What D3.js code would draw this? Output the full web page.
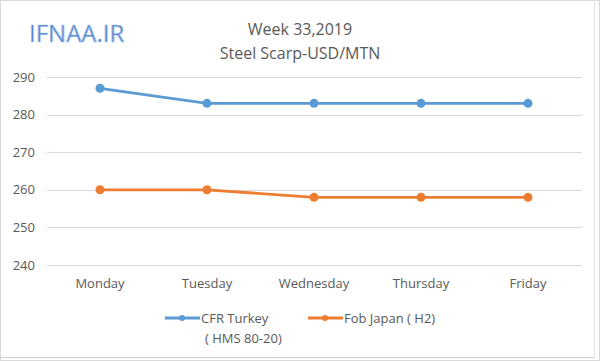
<!DOCTYPE html>
<html>
<head>
<meta charset="utf-8">
<script src="https://cdn.jsdelivr.net/npm/d3@7"></script>
<style>
  body { margin: 0; background: #fff; }
  text { font-family: "Open Sans", "Noto Sans", sans-serif; }
</style>
</head>
<body>
<script>
// chart values
const days = ["Monday", "Tuesday", "Wednesday", "Thursday", "Friday"];
const turkey = [287, 283, 283, 283, 283];
const japan = [260, 260, 258, 258, 258];
const yTicks = [240, 250, 260, 270, 280, 290];
const seriesNames = [["CFR Turkey", "( HMS 80-20)"], ["Fob Japan ( H2)"]];
const colors = ["#5B9BD5", "#ED7D31"];

const W = 600, H = 361;
var svg = d3.select("body").append("svg").attr("width", W).attr("height", H);

// outer frame
svg.append("rect").attr("x", 0.5).attr("y", 0.5).attr("width", W - 1).attr("height", H - 1)
   .attr("fill", "#fff").attr("stroke", "#d9d9d9");
svg.append("line").attr("x1", 594.5).attr("x2", 594.5).attr("y1", 0).attr("y2", 358)
   .attr("stroke", "#e3e3e3");
svg.append("line").attr("x1", 0).attr("x2", 595).attr("y1", 357.5).attr("y2", 357.5)
   .attr("stroke", "#d0d0d0");

var x = d3.scalePoint().domain(days).range([100, 528]);
var y = d3.scaleLinear().domain([240, 290]).range([265, 77]);

// gridlines
svg.append("g").selectAll("line").data(yTicks).join("line")
   .attr("x1", 47).attr("x2", 582)
   .attr("y1", d => Math.round(y(d)) + 0.5).attr("y2", d => Math.round(y(d)) + 0.5)
   .attr("stroke", "#d9d9d9").attr("stroke-width", 1);

// y labels
svg.append("g").selectAll("text").data(yTicks).join("text")
   .attr("x", 35).attr("y", d => y(d)).attr("dy", "0.35em")
   .attr("text-anchor", "end").attr("fill", "#595959").attr("font-size", 13)
   .text(d => d);

// x labels
svg.append("g").selectAll("text").data(days).join("text")
   .attr("x", d => x(d)).attr("y", 288)
   .attr("text-anchor", "middle").attr("fill", "#595959").attr("font-size", 13)
   .text(d => d);

// series
var line = d3.line().x((d, i) => x(days[i])).y(d => y(d));
[turkey, japan].forEach(function(vals, k) {
  svg.append("path").datum(vals).attr("d", line)
     .attr("fill", "none").attr("stroke", colors[k]).attr("stroke-width", 2.8)
     .attr("stroke-linejoin", "round");
  svg.append("g").selectAll("circle").data(vals).join("circle")
     .attr("cx", (d, i) => x(days[i])).attr("cy", d => y(d)).attr("r", 4.5)
     .attr("fill", colors[k]);
});

// titles
svg.append("text").attr("x", 300).attr("y", 35).attr("text-anchor", "middle")
   .attr("fill", "#595959").attr("font-size", 16).text("Week 33,2019");
svg.append("text").attr("x", 300).attr("y", 59).attr("text-anchor", "middle")
   .attr("fill", "#595959").attr("font-size", 16).text("Steel Scarp-USD/MTN");

// watermark
svg.append("text").attr("x", 29).attr("y", 42)
   .attr("fill", "#4a7fc8").attr("stroke", "#a9c4ea").attr("stroke-width", 0.7)
   .attr("font-size", 24).attr("font-family", "Liberation Sans, Arial, sans-serif")
   .text("IFNAA.IR");

// legend
var legX = [165, 308];
seriesNames.forEach(function(lbl, k) {
  var g = svg.append("g");
  g.append("line").attr("x1", legX[k]).attr("x2", legX[k] + 35).attr("y1", 318).attr("y2", 318)
   .attr("stroke", colors[k]).attr("stroke-width", 2.8);
  g.append("circle").attr("cx", legX[k] + 17).attr("cy", 318).attr("r", 3).attr("fill", colors[k]);
  lbl.forEach(function(t, j) {
    g.append("text").attr("x", legX[k] + 36 + (j ? 4 : 0)).attr("y", 323 + j * 20)
     .attr("fill", "#595959").attr("font-size", 13).text(t);
  });
});
</script>
</body>
</html>
